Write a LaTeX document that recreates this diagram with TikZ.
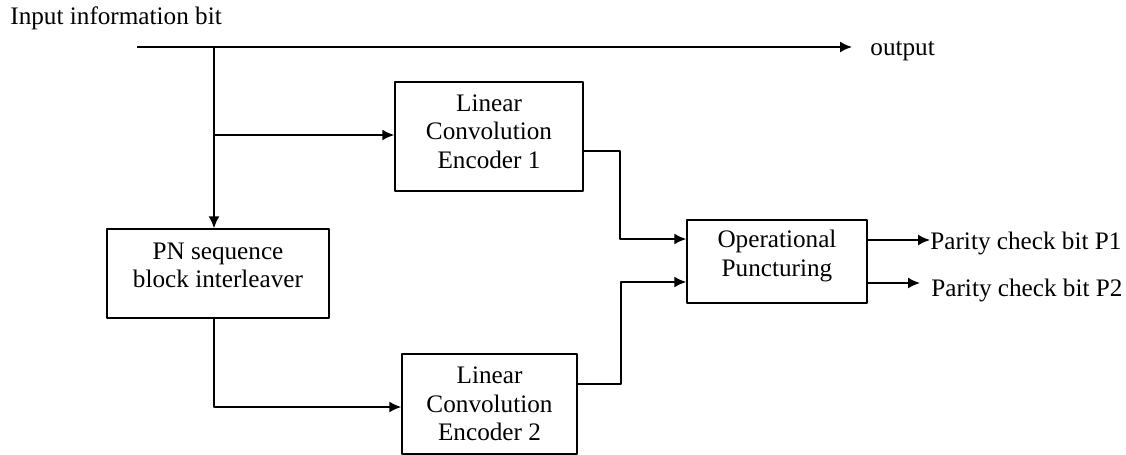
\documentclass[tikz,border=0pt]{standalone}
\usepackage{fontspec}
\setmainfont{Liberation Serif}
\usetikzlibrary{arrows.meta}
\begin{document}
\begin{tikzpicture}[x=0.5pt, y=-0.5pt, font=\fontsize{12.6}{14.25}\selectfont, line join=round, >={Latex[length=6pt,width=5.5pt]},
    blk/.style={draw, line width=0.75pt, inner sep=0pt},
    txt/.style={align=center, inner sep=0pt},
    wire/.style={line width=0.8pt}]
            \useasboundingbox (0,0) rectangle (1126,455);
            % blocks
            \node[blk, minimum width=111pt, minimum height=44.5pt, label={[txt, yshift=4pt]center:PN sequence\\block interleaver}] (pn) at (218,273.5) {};
            \node[blk, minimum width=94pt, minimum height=54.5pt, label={[txt, yshift=2.5pt]center:Linear\\Convolution\\Encoder 1}] (enc1) at (489,136.5) {};
            \node[blk, minimum width=87.5pt, minimum height=50pt, label={[txt]center:Linear\\Convolution\\Encoder 2}] (enc2) at (489.5,404) {};
            \node[blk, minimum width=90pt, minimum height=41.5pt, label={[txt, yshift=2.75pt]center:Operational\\Puncturing}] (punc) at (777,261.5) {};
            % texts
            \node[anchor=base west, inner sep=0pt] (inbit) at (10,25) {Input information bit};
            \node[anchor=base west, inner sep=0pt] (out) at (870,55) {output};
            \node[anchor=base west, inner sep=0pt] (p1) at (930,249) {Parity check bit P1};
            \node[anchor=base west, inner sep=0pt] (p2) at (931,296) {Parity check bit P2};
            % wires
            \coordinate (start) at (137,47);
            \coordinate (split) at (214,47);
            \coordinate (tap) at (214,135);
            \draw[wire,->,shorten >=9pt] (start) -- (start -| out.west);
            \draw[wire,->] (split) -- (split |- pn.north);
            \draw[wire,->] (tap) -- (tap -| enc1.west);
            \draw[wire,->] (split |- pn.south) |- ([yshift=-1.5pt]enc2.west);
            \draw[wire,->] ([yshift=-7.25pt]enc1.east) -- ++(36,0) |- ([yshift=11.25pt]punc.west);
            \draw[wire,->] ([yshift=10pt]enc2.east) -- ++(43,0) |- ([yshift=-10.25pt]punc.west);
            \draw[wire,->] ([yshift=10.75pt]punc.east) -- ([yshift=10.75pt]punc.east -| p1.west);
            \draw[wire,->,shorten >=5.5pt] ([yshift=-10.75pt]punc.east) -- ([yshift=-10.75pt]punc.east -| p2.west);
        \end{tikzpicture}
\end{document}
